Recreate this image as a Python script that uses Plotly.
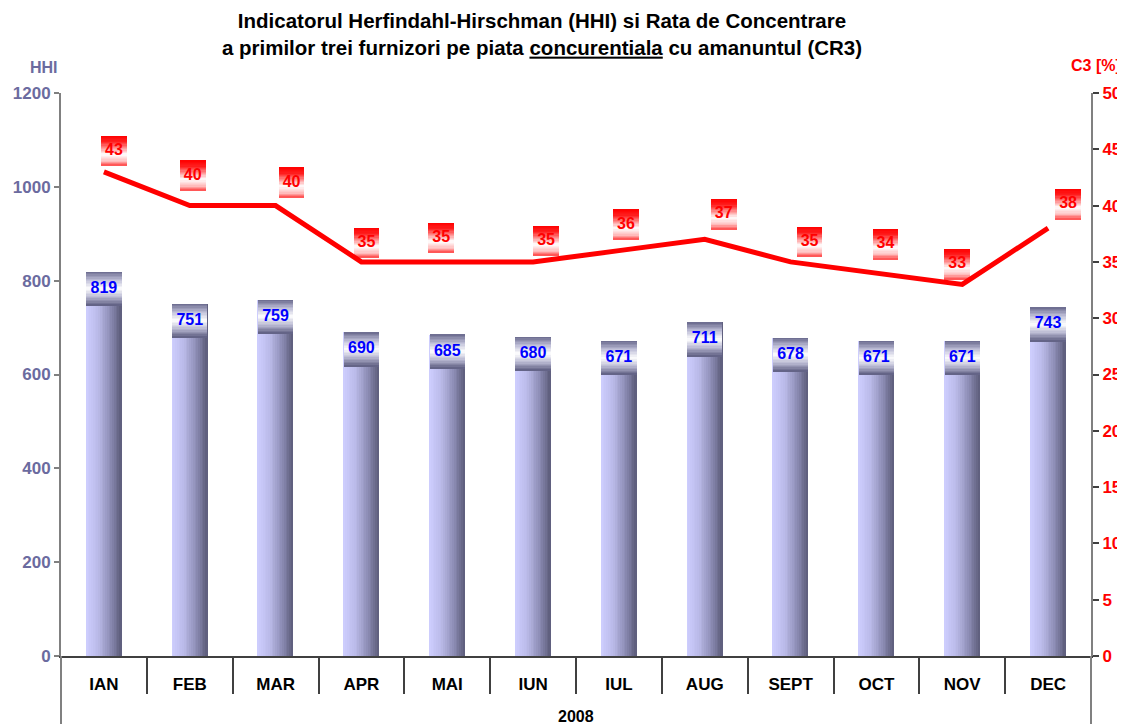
import plotly.graph_objects as go

# ---------------- data ----------------
months = ["IAN", "FEB", "MAR", "APR", "MAI", "IUN", "IUL", "AUG", "SEPT", "OCT", "NOV", "DEC"]
hhi = [819, 751, 759, 690, 685, 680, 671, 711, 678, 671, 671, 743]
c3 = [43, 40, 40, 35, 35, 35, 36, 37, 35, 34, 33, 38]
year_label = "2008"

# manual nudges of the C3 value labels (pixels, right / up from each point)
c3_label_dx_px = [10, 3, 16, 5, -6, 13, 7, 19, 19, 9, -5, 20]
c3_label_dy_px = [21, 30, 23, 19, 24, 21, 26, 25, 20, 29, 20, 24]

# ---------------- styling helpers ----------------
FONT = "Liberation Sans, Arial, sans-serif"
HHI_COL = "#6b6b9f"
RED = "#ff0000"

def lerp_color(stops, t):
    for (t0, c0), (t1, c1) in zip(stops[:-1], stops[1:]):
        if t0 <= t <= t1:
            f = 0 if t1 == t0 else (t - t0) / (t1 - t0)
            r, g, b = (round(a + (bb - a) * f) for a, bb in zip(c0, c1))
            return f"rgb({r},{g},{b})"
    r, g, b = stops[-1][1]
    return f"rgb({r},{g},{b})"

bar_stops = [(0.0, (206, 206, 255)), (0.35, (186, 186, 232)), (0.7, (140, 140, 180)), (1.0, (92, 92, 122))]
hhi_box_stops = [(0.0, (104, 104, 140)), (0.25, (190, 190, 215)), (0.5, (255, 255, 255)), (0.75, (185, 185, 210)), (1.0, (92, 92, 128))]
red_box_stops = [(0.0, (255, 0, 0)), (0.2, (255, 30, 30)), (0.62, (255, 255, 255)), (0.85, (255, 190, 190)), (1.0, (255, 70, 70))]

x = list(range(len(months)))
BAR_W = 0.41
N_SLICE = 20
HHI_BOX_H = 72.0
N_BAND = 24
RED_W = 0.30
RED_H = 2.66

# figure geometry (page has an 8px body margin)
FIG_W, FIG_H = 1117, 716
ML, MT, PW, PH = 53, 85, 1030, 563
PX_PER_X = PW / len(months)
PX_PER_Y2 = PH / 50.0

fig = go.Figure()

# bars with horizontal gradient (built from vertical slices)
sw = BAR_W / N_SLICE
for k in range(N_SLICE):
    fig.add_trace(go.Bar(
        x=x, y=hhi, width=sw * 1.1, offset=-BAR_W / 2 + k * sw,
        marker=dict(color=lerp_color(bar_stops, (k + 0.5) / N_SLICE), line=dict(width=0)),
        hoverinfo="skip", showlegend=False))

# HHI value boxes (vertical gradient bands)
bh = HHI_BOX_H / N_BAND
for k in range(N_BAND):
    fig.add_trace(go.Bar(
        x=x, y=[bh * 1.1] * len(x), base=[v - (k + 1) * bh for v in hhi],
        width=BAR_W, offset=-BAR_W / 2,
        marker=dict(color=lerp_color(hhi_box_stops, (k + 0.5) / N_BAND), line=dict(width=0)),
        hoverinfo="skip", showlegend=False))

fig.add_trace(go.Scatter(
    x=x, y=[v - HHI_BOX_H / 2 for v in hhi], mode="text", text=[str(v) for v in hhi],
    textposition="middle center",
    textfont=dict(family=FONT, size=16, color="#0000ff", weight="bold"),
    hoverinfo="skip", showlegend=False))

# C3 line
fig.add_trace(go.Scatter(
    x=x, y=c3, mode="lines", yaxis="y2",
    line=dict(color=RED, width=5), hoverinfo="skip", showlegend=False))

# C3 value boxes
lab_x = [i + dx / PX_PER_X for i, dx in zip(x, c3_label_dx_px)]
lab_y = [v + dy / PX_PER_Y2 for v, dy in zip(c3, c3_label_dy_px)]
rb = RED_H / N_BAND
for k in range(N_BAND):
    fig.add_trace(go.Bar(
        x=lab_x, y=[rb * 1.1] * len(x), base=[v + RED_H / 2 - (k + 1) * rb for v in lab_y],
        width=RED_W, offset=-RED_W / 2, yaxis="y2",
        marker=dict(color=lerp_color(red_box_stops, (k + 0.5) / N_BAND), line=dict(width=0)),
        hoverinfo="skip", showlegend=False))

fig.add_trace(go.Scatter(
    x=lab_x, y=lab_y, yaxis="y2",
    mode="text", text=[str(v) for v in c3], textposition="middle center",
    textfont=dict(family=FONT, size=16, color=RED, weight="bold"),
    hoverinfo="skip", showlegend=False))

title_text = ("Indicatorul Herfindahl-Hirschman (HHI) si Rata de Concentrare<br>"
              "a primilor trei furnizori pe piata <u>concurentiala</u> cu amanuntul (CR3)")

fig.update_layout(
    width=FIG_W, height=FIG_H,
    margin=dict(l=ML, r=FIG_W - ML - PW, t=MT, b=FIG_H - MT - PH, autoexpand=False),
    plot_bgcolor="white", paper_bgcolor="white",
    barmode="overlay", bargap=0, showlegend=False,
    font=dict(family=FONT),
    title=dict(text=title_text, x=534 / FIG_W, xanchor="center", xref="container",
               y=1 - 20 / FIG_H, yanchor="middle", yref="container",
               font=dict(family=FONT, size=20.5, color="black", weight="bold")),
    xaxis=dict(
        range=[-0.5, len(months) - 0.5], tickmode="array", tickvals=x, ticktext=months,
        ticks="outside", ticklen=12, tickcolor="rgba(0,0,0,0)",
        tickfont=dict(family=FONT, size=17, color="black", weight="bold"),
        showgrid=False, zeroline=False, showline=True, linecolor="#404040", linewidth=1.5,
        minor=dict(tickmode="array", tickvals=[i + 0.5 for i in x[:-1]], ticks="outside",
                   ticklen=36, tickcolor="#404040", tickwidth=1.5, showgrid=False),
    ),
    yaxis=dict(
        range=[0, 1200], tick0=0, dtick=200, ticks="outside", ticklen=5,
        tickcolor="#808080", tickwidth=1.5,
        tickfont=dict(family=FONT, size=17, color=HHI_COL, weight="bold"),
        showgrid=False, zeroline=False, showline=True, linecolor="#808080", linewidth=2,
    ),
    yaxis2=dict(
        overlaying="y", side="right", range=[0, 50], tick0=0, dtick=5,
        ticks="outside", ticklen=6, tickcolor="#404040", tickwidth=1.5,
        tickfont=dict(family=FONT, size=17, color=RED, weight="bold"),
        showgrid=False, zeroline=False, showline=True, linecolor="#808080", linewidth=2,
    ),
    shapes=[
        dict(type="line", xref="paper", yref="paper", x0=0, x1=0, y0=0, y1=-(FIG_H - MT - PH) / PH,
             line=dict(color="#808080", width=2)),
        dict(type="line", xref="paper", yref="paper", x0=1, x1=1, y0=0, y1=-(FIG_H - MT - PH) / PH,
             line=dict(color="#808080", width=2)),
    ],
    annotations=[
        dict(text="<b>HHI</b>", xref="paper", yref="paper", x=(44 - 61) / PW, y=(656 - 67) / PH,
             xanchor="center", yanchor="middle", showarrow=False,
             font=dict(family=FONT, size=16, color=HHI_COL)),
        dict(text="<b>C3 [%]</b>", xref="paper", yref="paper", x=(1096 - 61) / PW, y=(656 - 65) / PH,
             xanchor="center", yanchor="middle", showarrow=False,
             font=dict(family=FONT, size=16, color=RED)),
        dict(text=f"<b>{year_label}</b>", xref="paper", yref="paper", x=0.5, y=-(716 - 656) / PH,
             xanchor="center", yanchor="middle", showarrow=False,
             font=dict(family=FONT, size=16, color="black")),
    ],
)

fig.write_html("out.html")
